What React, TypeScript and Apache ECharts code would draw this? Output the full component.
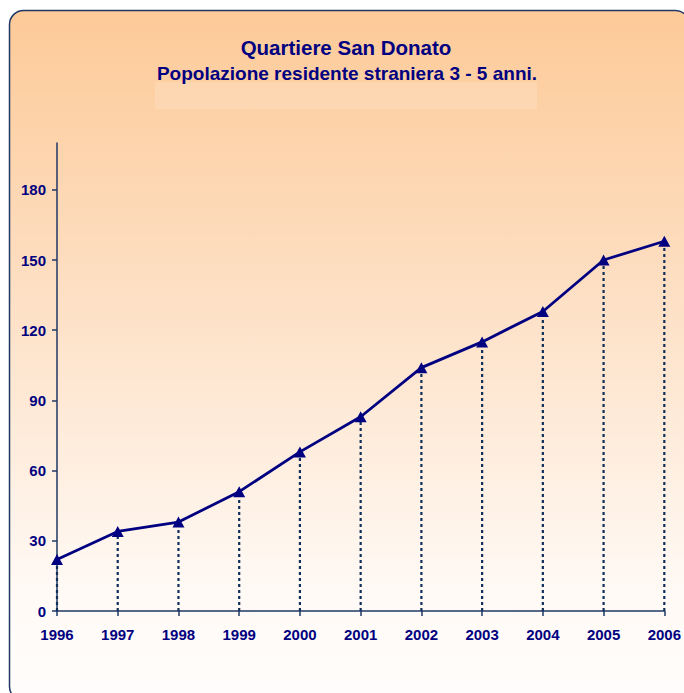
import React, { useEffect, useRef } from "react";
import * as echarts from "echarts";

const years = ["1996", "1997", "1998", "1999", "2000", "2001", "2002", "2003", "2004", "2005", "2006"];
const residents = [22, 34, 38, 51, 68, 83, 104, 115, 128, 150, 158];
const yTicks = [0, 30, 60, 90, 120, 150, 180];
const titleText = "Quartiere San Donato";
const subtitleText = "Popolazione residente straniera 3 - 5 anni.";

export default function App() {
  const ref = useRef<HTMLDivElement>(null);
  useEffect(() => {
    if (!ref.current) return;
    const chart = echarts.init(ref.current, null, { renderer: "svg" });
    const navy = "#000080";
    const axisCol = "#1f3864";
    const font = "'Liberation Sans', Arial, sans-serif";
    chart.setOption({
      animation: false,
      backgroundColor: "#ffffff",
      graphic: [
        {
          type: "rect",
          z: -10,
          shape: { x: 9.5, y: 10.5, width: 680, height: 690, r: 14 },
          style: {
            fill: new echarts.graphic.LinearGradient(0, 0, 0, 1, [
              { offset: 0, color: "#fdca98" },
              { offset: 0.35, color: "#fddcbd" },
              { offset: 0.85, color: "#fffaf6" },
              { offset: 1, color: "#fffdfc" },
            ]),
            stroke: axisCol,
            lineWidth: 1.5,
          },
        },
        {
          type: "rect",
          z: -9,
          shape: { x: 155, y: 82, width: 382, height: 27 },
          style: { fill: "rgba(255,235,215,0.25)" },
        },
        {
          type: "text",
          z: 5,
          x: 346,
          y: 47,
          style: {
            text: titleText,
            fill: navy,
            font: `bold 20.5px ${font}`,
            align: "center",
            verticalAlign: "middle",
          },
        },
        {
          type: "text",
          z: 5,
          x: 347,
          y: 73,
          style: {
            text: subtitleText,
            fill: navy,
            font: `bold 19px ${font}`,
            align: "center",
            verticalAlign: "middle",
          },
        },
      ],
      grid: { left: 57, right: 19, top: 143, bottom: 82, containLabel: false },
      xAxis: {
        type: "category",
        data: years,
        boundaryGap: false,
        axisLine: { lineStyle: { color: axisCol, width: 1.5 } },
        axisTick: { show: true, length: 5, inside: false, lineStyle: { color: axisCol, width: 1.5 } },
        axisLabel: {
          color: navy,
          fontFamily: font,
          fontWeight: "bold",
          fontSize: 15,
          margin: 16,
          interval: 0,
        },
        splitLine: { show: false },
      },
      yAxis: {
        type: "value",
        min: 0,
        max: 200,
        interval: 30,
        axisLine: { show: true, lineStyle: { color: axisCol, width: 1.5 } },
        axisTick: { show: true, length: 5, lineStyle: { color: axisCol, width: 1.5 }, customValues: yTicks },
        axisLabel: {
          color: navy,
          fontFamily: font,
          fontWeight: "bold",
          fontSize: 15,
          margin: 11,
          customValues: yTicks,
        },
        splitLine: { show: false },
      },
      series: [
        {
          type: "custom",
          z: 1,
          data: residents.map((v, i) => [i, v]),
          renderItem: (params: any, api: any) => {
            const x = api.value(0);
            const v = api.value(1);
            const p0 = api.coord([x, 0]);
            const p1 = api.coord([x, v]);
            return {
              type: "line",
              shape: { x1: p0[0], y1: p0[1], x2: p1[0], y2: p1[1] },
              style: { stroke: "#0f2f5a", lineWidth: 2.2, lineDash: [3, 3] },
            };
          },
          silent: true,
        },
        {
          type: "line",
          z: 3,
          data: residents,
          symbol: "triangle",
          symbolSize: [12, 11],
          lineStyle: { color: navy, width: 2.8 },
          itemStyle: { color: navy },
        },
      ],
    });
    return () => chart.dispose();
  }, []);
  return (
    <div
      ref={ref}
      style={{ position: "absolute", left: 0, top: 0, width: 684, height: 693 }}
    />
  );
}
